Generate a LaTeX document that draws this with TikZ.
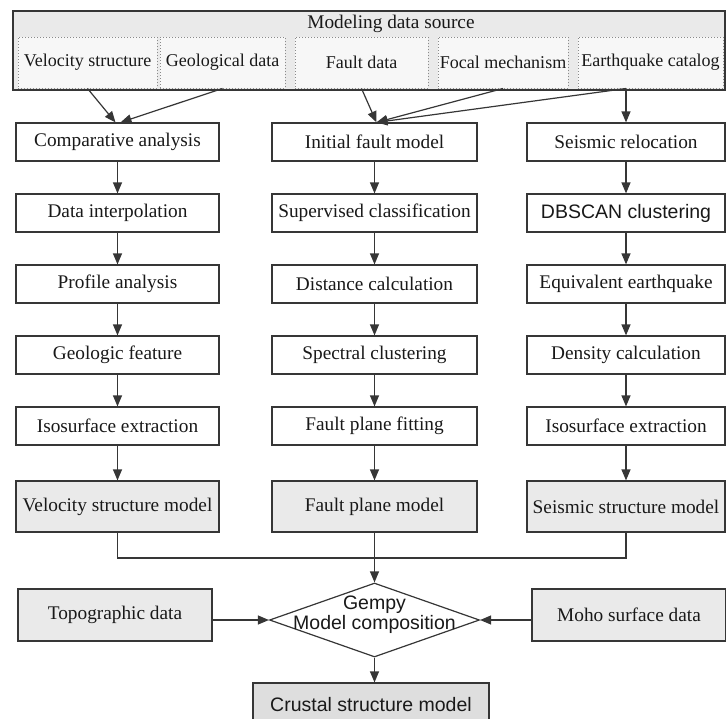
\documentclass[tikz,border=0pt]{standalone}
\usepackage{fontspec}
\setmainfont{Liberation Serif}
\setsansfont{Liberation Sans}
\usetikzlibrary{calc, shapes.geometric, positioning, arrows.meta}
\definecolor{linegray}{HTML}{363636}
\definecolor{boxgray}{HTML}{EAEAEA}
\definecolor{dotgray}{HTML}{8A8A8A}
\definecolor{srcgray}{HTML}{F7F7F7}
\definecolor{endgray}{HTML}{DEDEDE}
\tikzset{
  stepbox/.style={draw=linegray, line width=1.2pt, fill=white, minimum height=38, inner sep=0pt, text=black!90, font=\fontsize{19.3}{22}\selectfont},
  modelbox/.style={stepbox, fill=boxgray, minimum height=51},
  srcbox/.style={draw=dotgray, line width=1pt, dash pattern=on 1pt off 2pt, fill=srcgray, minimum height=51, inner sep=0pt, text=black!90, font=\fontsize{18}{20}\selectfont},
  arr/.style={draw=linegray, line width=1.2pt, -{Triangle[length=11pt,width=9pt]}},
  conn/.style={draw=linegray, line width=1.2pt}
}
\begin{document}
\begin{tikzpicture}[x=1pt, y=-1pt]
\useasboundingbox (0,0) rectangle (726,718);
% data sources
\node[draw=linegray, line width=1.2pt, fill=boxgray, minimum width=712, minimum height=79, inner sep=0pt] (src) at (369,50.5) {};
\node[text=black!90, font=\fontsize{19.3}{22}\selectfont] (title) at (391,24) {Modeling data source};
\node[srcbox, minimum width=139] (s1) at (87.5,62.5) {Velocity structure};
\node[srcbox, minimum width=125] (s2) at (222.5,62.5) {Geological data};
\node[srcbox, minimum width=133] (s3) at (361.5,62.5) {Fault data};
\node[srcbox, minimum width=130] (s4) at (503,62.5) {Focal mechanism};
\node[srcbox, minimum width=145] (s5) at (650.5,62.5) {Earthquake catalog};
% three columns
\foreach \i/\t in {1/Comparative analysis, 2/Data interpolation, 3/Profile analysis, 4/Geologic feature, 5/Isosurface extraction}
  \node[stepbox, minimum width=203] (l\i) at (117.5,71+71*\i) {\t};
\foreach \i/\t in {1/Initial fault model, 2/Supervised classification, 3/Distance calculation, 4/Spectral clustering, 5/Fault plane fitting}
  \node[stepbox, minimum width=205] (m\i) at (374.5,71+71*\i) {\t};
\foreach \i/\t in {1/Seismic relocation, 2/{\sffamily\fontsize{19.5}{22}\selectfont DBSCAN clustering}, 3/Equivalent earthquake, 4/Density calculation, 5/Isosurface extraction}
  \node[stepbox, minimum width=198] (r\i) at (626,71+71*\i) {\t};
\node[modelbox, minimum width=203] (l6) at (117.5,506.5) {Velocity structure model};
\node[modelbox, minimum width=205] (m6) at (374.5,506.5) {Fault plane model};
\node[modelbox, minimum width=198] (r6) at (626,506.5) {Seismic structure model};
\foreach \c in {l,m,r}
  \foreach \i/\j in {1/2,2/3,3/4,4/5,5/6}
    \draw[arr] (\c\i) -- (\c\j);
% inputs
\draw[arr] (s1.south) -- ([xshift=-2pt]l1.north);
\draw[arr] (s2.south) -- ([xshift=3pt]l1.north);
\draw[arr] (s3.south) -- ([xshift=2pt]m1.north);
\draw[arr] (s4.south) -- ([xshift=2pt]m1.north);
\draw[arr] (s5.south -| r1.north) -- ([xshift=2pt]m1.north);
\draw[arr] (s5.south -| r1.north) -- (r1.north);
% composition
\node[diamond, draw=linegray, line width=1.2pt, fill=white, minimum width=210, minimum height=74, inner sep=0pt] (dia) at (374.5,620) {};
\node[align=center, text=black!90, font=\sffamily\fontsize{19.5}{20}\selectfont] (gempy) at (374.5,615) {Gempy\\Model composition};
\node[modelbox, minimum width=194, minimum height=52] (topo) at (115,615) {Topographic data};
\node[modelbox, minimum width=194, minimum height=52] (moho) at (629,615) {Moho surface data};
\node[modelbox, fill=endgray, minimum width=236, minimum height=44, font=\sffamily\fontsize{19.5}{22}\selectfont] (crust) at (371,705) {Crustal structure model};
\coordinate (jn) at (374.5,558);
\draw[conn] (l6.south) -- (l6.south |- jn) -- (r6.south |- jn) -- (r6.south);
\draw[arr] (m6.south) -- (dia.north);
\draw[arr] (topo.east |- dia.west) -- (dia.west);
\draw[arr] (moho.west |- dia.east) -- (dia.east);
\draw[arr] (dia.south) -- (dia.south |- crust.north);
\end{tikzpicture}
\end{document}
